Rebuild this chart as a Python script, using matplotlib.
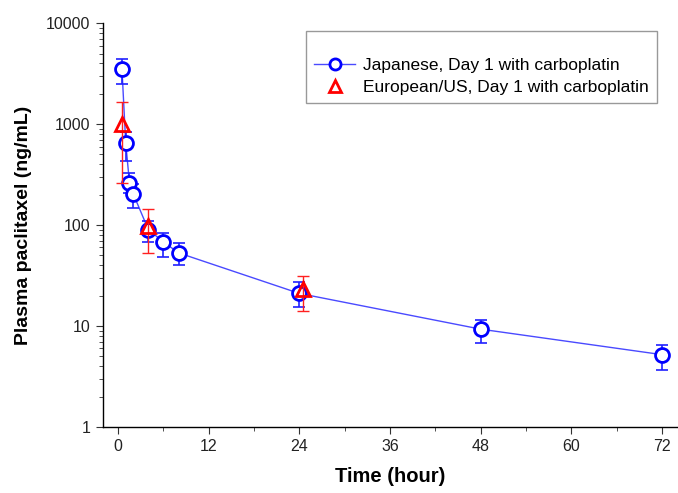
import matplotlib
matplotlib.use("Agg")
import matplotlib.pyplot as plt
from matplotlib.ticker import FixedLocator, LogLocator, NullFormatter

plt.rcParams["font.family"] = ["Liberation Sans", "DejaVu Sans"]

# Japanese, Day 1 with carboplatin
jp_time = [0.5, 1, 1.5, 2, 4, 6, 8, 24, 48, 72]
jp_mean = [3550, 650, 260, 203, 90, 68, 53, 21, 9.3, 5.2]
jp_upper = [4400, 830, 327, 255, 110, 84, 66, 27, 11.4, 6.5]
jp_lower = [2500, 430, 207, 147, 68, 48, 40, 15.5, 6.8, 3.7]

# European/US, Day 1 with carboplatin
eu_time = [0.5, 4, 24.5]
eu_mean = [1000, 97, 23.5]
eu_upper = [1650, 145, 31]
eu_lower = [260, 53, 14]

x_ticks = [0, 12, 24, 36, 48, 60, 72]
y_ticks = [1, 10, 100, 1000, 10000]

fig = plt.figure(figsize=(6.78, 4.93), dpi=100)
ax = fig.add_axes([0.152, 0.134, 0.848, 0.819])

jp_err = [[m - lo for m, lo in zip(jp_mean, jp_lower)],
          [hi - m for m, hi in zip(jp_mean, jp_upper)]]
eu_err = [[m - lo for m, lo in zip(eu_mean, eu_lower)],
          [hi - m for m, hi in zip(eu_mean, eu_upper)]]

ax.plot(jp_time, jp_mean, "-", color="#4a4aff", lw=1.0, zorder=2)
ax.errorbar(jp_time, jp_mean, yerr=jp_err, fmt="none", ecolor="#2020ff",
            elinewidth=1.2, capsize=4.5, capthick=1.2, zorder=3)
ax.plot(jp_time, jp_mean, "o", ms=10, mfc="white", mec="#0000ff", mew=2,
        zorder=4)
ax.errorbar(eu_time, eu_mean, yerr=eu_err, fmt="none", ecolor="#ff2020",
            elinewidth=1.0, capsize=4.5, capthick=1.0, zorder=5)
ax.plot(eu_time, eu_mean, "^", ms=10, mfc="none", mec="#ff0000", mew=2,
        zorder=6)

# legend handles
h1, = ax.plot([], [], "-o", color="#4a4aff", lw=1.0, ms=8, mfc="white",
              mec="#0000ff", mew=2)
h2, = ax.plot([], [], "^", ms=8, mfc="white", mec="#ff0000", mew=2)
leg = ax.legend([h1, h2], ["Japanese, Day 1 with carboplatin",
                           "European/US, Day 1 with carboplatin"],
                loc="upper right", bbox_to_anchor=(0.963, 0.98),
                fontsize=12.5, frameon=True, fancybox=False,
                handlelength=2.4, handletextpad=0.45, borderpad=0.45,
                labelspacing=0.4, borderaxespad=0,
                title=" ", title_fontsize=9)
leg.get_frame().set_edgecolor("#808080")
leg.get_frame().set_linewidth(1.0)

ax.set_yscale("log")
ax.set_xlim(-2, 74.1)
ax.set_ylim(1, 10000)
ax.set_xticks(x_ticks)
ax.xaxis.set_minor_locator(FixedLocator([6, 18, 30, 42, 54, 66]))
ax.set_yticks(y_ticks)
ax.set_yticklabels([str(v) for v in y_ticks])
ax.yaxis.set_minor_locator(LogLocator(base=10, subs=range(2, 10)))
ax.yaxis.set_minor_formatter(NullFormatter())

ax.spines["top"].set_visible(False)
ax.spines["right"].set_visible(False)
for s in ("left", "bottom"):
    ax.spines[s].set_linewidth(1.0)
ax.tick_params(which="major", direction="out", length=5, labelsize=11.5,
               color="#333333", labelcolor="#222222", pad=4)
ax.tick_params(which="minor", direction="out", length=3, color="#333333")

ax.set_xlabel("Time (hour)", fontsize=14.5, fontweight="bold", labelpad=9)
ax.set_ylabel("Plasma paclitaxel (ng/mL)", fontsize=14, fontweight="bold",
              labelpad=10)

fig.savefig("out.png", dpi=100)
